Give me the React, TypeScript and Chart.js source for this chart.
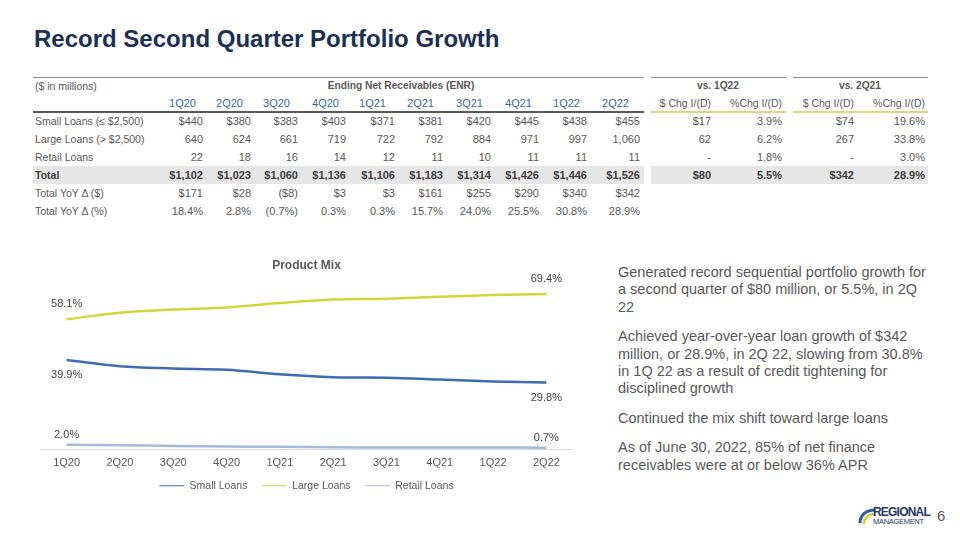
import React, { useEffect, useRef } from "react";
import { Chart, registerables } from "chart.js";

Chart.register(...registerables);

// ---- Ending net receivables table ($ in millions) ----
const quarters = ["1Q20", "2Q20", "3Q20", "4Q20", "1Q21", "2Q21", "3Q21", "4Q21", "1Q22", "2Q22"];
const smallLoansEnr = ["$440", "$380", "$383", "$403", "$371", "$381", "$420", "$445", "$438", "$455"];
const largeLoansEnr = ["640", "624", "661", "719", "722", "792", "884", "971", "997", "1,060"];
const retailLoansEnr = ["22", "18", "16", "14", "12", "11", "10", "11", "11", "11"];
const totalEnr = ["$1,102", "$1,023", "$1,060", "$1,136", "$1,106", "$1,183", "$1,314", "$1,426", "$1,446", "$1,526"];
const totalYoyDollar = ["$171", "$28", "($8)", "$3", "$3", "$161", "$255", "$290", "$340", "$342"];
const totalYoyPct = ["18.4%", "2.8%", "(0.7%)", "0.3%", "0.3%", "15.7%", "24.0%", "25.5%", "30.8%", "28.9%"];
const rowLabels = ["Small Loans (≤ $2,500)", "Large Loans (> $2,500)", "Retail Loans", "Total", "Total YoY Δ ($)", "Total YoY Δ (%)"];
const vs1Q22Dollar = ["$17", "62", "-", "$80"];
const vs1Q22Pct = ["3.9%", "6.2%", "1.8%", "5.5%"];
const vs2Q21Dollar = ["$74", "267", "-", "$342"];
const vs2Q21Pct = ["19.6%", "33.8%", "3.0%", "28.9%"];
const changeHeaders = ["$ Chg I/(D)", "%Chg I/(D)", "$ Chg I/(D)", "%Chg I/(D)"];

// ---- Product mix (% of ending net receivables) ----
const smallMix = [39.9, 37.1, 36.1, 35.5, 33.5, 32.2, 32.0, 31.2, 30.3, 29.8];
const largeMix = [58.1, 61.0, 62.4, 63.3, 65.3, 66.9, 67.3, 68.1, 68.9, 69.4];
const retailMix = [2.0, 1.8, 1.5, 1.2, 1.1, 0.9, 0.8, 0.8, 0.8, 0.7];

const bullets = [
  "Generated record sequential portfolio growth for a second quarter of $80 million, or 5.5%, in 2Q 22",
  "Achieved year-over-year loan growth of $342 million, or 28.9%, in 2Q 22, slowing from 30.8% in 1Q 22 as a result of credit tightening for disciplined growth",
  "Continued the mix shift toward large loans",
  "As of June 30, 2022, 85% of net finance receivables were at or below 36% APR",
];

const FONT = "'Liberation Sans', Arial, Helvetica, sans-serif";
const GRAY = "#595959";

// table geometry
const colRight = [203, 251, 298, 346, 395, 443, 491, 539, 587, 640];
const headRight = [196, 243, 290, 339, 386, 434, 483, 532, 580, 629];
const chgRight = [711, 782, 854, 925];
const rowY = [121, 139, 157, 175, 193, 211];

function T(props: {
  x: number;
  y: number;
  align?: "left" | "right" | "center";
  children: React.ReactNode;
  style?: React.CSSProperties;
}) {
  const { x, y, align = "left", children, style } = props;
  const h = 16;
  const base: React.CSSProperties = {
    position: "absolute",
    top: y - h / 2,
    height: h,
    lineHeight: h + "px",
    whiteSpace: "nowrap",
    fontSize: 11,
    color: GRAY,
  };
  if (align === "left") base.left = x;
  else if (align === "right") base.right = 960 - x;
  else {
    base.left = x - 100;
    base.width = 200;
    base.textAlign = "center";
  }
  return <div style={{ ...base, ...style }}>{children}</div>;
}

function Rule(props: { x1: number; x2: number; y: number; color: string; w?: number }) {
  const { x1, x2, y, color, w = 1 } = props;
  return (
    <div
      style={{ position: "absolute", left: x1, top: y - w / 2, width: x2 - x1, height: w, background: color }}
    />
  );
}

const boldRow: React.CSSProperties = { fontWeight: "bold", color: "#404040" };
const headFont: React.CSSProperties = { fontWeight: "bold", fontSize: 10.2 };
const labelFont: React.CSSProperties = { fontSize: 10.5 };

function EnrTable() {
  const dataRows = [smallLoansEnr, largeLoansEnr, retailLoansEnr, totalEnr, totalYoyDollar, totalYoyPct];
  const chgRows = [vs1Q22Dollar, vs1Q22Pct, vs2Q21Dollar, vs2Q21Pct];
  return (
    <>
      {/* total band */}
      <div style={{ position: "absolute", left: 33, top: 166, width: 611, height: 18, background: "#E7E6E6" }} />
      <div style={{ position: "absolute", left: 651, top: 166, width: 277, height: 18, background: "#E7E6E6" }} />
      {/* rules */}
      <Rule x1={33} x2={644} y={77} color="#8C8C8C" />
      <Rule x1={651} x2={786} y={77} color="#8C8C8C" />
      <Rule x1={793} x2={928} y={77} color="#8C8C8C" />
      <Rule x1={33} x2={644} y={112} color="#595959" w={1.5} />
      <Rule x1={651} x2={786} y={112} color="#D7DC6A" w={1.5} />
      <Rule x1={793} x2={928} y={112} color="#D7DC6A" w={1.5} />

      <T x={35} y={86} style={labelFont}>($ in millions)</T>
      <T x={401} y={86} align="center" style={headFont}>
        Ending Net Receivables (ENR)
      </T>
      <T x={718} y={86} align="center" style={headFont}>
        vs. 1Q22
      </T>
      <T x={860} y={86} align="center" style={headFont}>
        vs. 2Q21
      </T>

      {quarters.map((q, i) => (
        <T key={q} x={headRight[i]} y={103} align="right" style={{ color: "#2E6DB4" }}>
          {q}
        </T>
      ))}
      {changeHeaders.map((h, i) => (
        <T key={i} x={chgRight[i]} y={103} align="right" style={labelFont}>
          {h}
        </T>
      ))}

      {rowLabels.map((lab, r) => (
        <T key={lab} x={35} y={rowY[r]} style={r === 3 ? { ...labelFont, ...boldRow } : labelFont}>
          {lab}
        </T>
      ))}
      {dataRows.map((row, r) =>
        row.map((v, c) => (
          <T key={r + "-" + c} x={colRight[c]} y={rowY[r]} align="right" style={r === 3 ? boldRow : undefined}>
            {v}
          </T>
        ))
      )}
      {chgRows.map((col, c) =>
        col.map((v, r) => (
          <T key={"c" + c + "-" + r} x={chgRight[c]} y={rowY[r]} align="right" style={r === 3 ? boldRow : undefined}>
            {v}
          </T>
        ))
      )}
    </>
  );
}

// first / last value labels for each series
const labelShift = [15, -15, -10];
const endLabels = {
  id: "endLabels",
  afterDatasetsDraw(chart: any) {
    const { ctx } = chart;
    ctx.save();
    ctx.font = `11px ${FONT}`;
    ctx.fillStyle = "#404040";
    ctx.textAlign = "center";
    ctx.textBaseline = "middle";
    chart.data.datasets.forEach((ds: any, i: number) => {
      const meta = chart.getDatasetMeta(i);
      const last = ds.data.length - 1;
      [0, last].forEach((idx) => {
        const el = meta.data[idx];
        ctx.fillText(ds.data[idx].toFixed(1) + "%", el.x, el.y + labelShift[i]);
      });
    });
    ctx.restore();
  },
};

function MixChart() {
  const ref = useRef<HTMLCanvasElement | null>(null);
  useEffect(() => {
    if (!ref.current) return;
    const chart = new Chart(ref.current, {
      type: "line",
      data: {
        labels: quarters,
        datasets: [
          { label: "Small Loans", data: smallMix, borderColor: "#3D6DB0", backgroundColor: "#3D6DB0" },
          { label: "Large Loans", data: largeMix, borderColor: "#CFD83B", backgroundColor: "#CFD83B" },
          { label: "Retail Loans", data: retailMix, borderColor: "#A3BCDD", backgroundColor: "#A3BCDD" },
        ],
      },
      options: {
        animation: false,
        responsive: false,
        maintainAspectRatio: false,
        layout: { padding: { left: 20, right: 22, top: 0, bottom: 4 } },
        elements: {
          line: { borderWidth: 2.5, tension: 0.35 },
          point: { radius: 0, hoverRadius: 0 },
        },
        scales: {
          x: {
            offset: true,
            grid: { display: true, drawOnChartArea: false, drawTicks: false },
            border: { display: true, color: "#D9D9D9", width: 1 },
            ticks: { color: GRAY, padding: 7, font: { family: FONT, size: 11 } },
          },
          y: { display: false, min: 0, max: 75 },
        },
        plugins: {
          title: {
            display: true,
            text: "Product Mix",
            color: GRAY,
            font: { family: FONT, size: 12, weight: "bold" },
            padding: { top: 2, bottom: 9 },
          },
          legend: {
            position: "bottom",
            labels: {
              usePointStyle: true,
              pointStyle: "line",
              pointStyleWidth: 25,
              color: GRAY,
              padding: 4,
              font: { family: FONT, size: 10.5 },
              // an em space after the leading names keeps the items spread apart
              generateLabels: (c: any) => {
                const items = Chart.defaults.plugins.legend.labels.generateLabels(c);
                return items.map((item: any, i: number) =>
                  i < items.length - 1 ? { ...item, text: item.text + "\u2003" } : item
                );
              },
            },
          },
          tooltip: { enabled: false },
        },
      },
      plugins: [endLabels],
    });
    return () => chart.destroy();
  }, []);
  return (
    <canvas
      ref={ref}
      width={575}
      height={249}
      style={{ position: "absolute", left: 20, top: 256, width: 575, height: 249 }}
    />
  );
}

function Logo() {
  return (
    <div style={{ position: "absolute", left: 858, top: 505, width: 80, height: 24 }}>
      <svg width="18" height="20" style={{ position: "absolute", left: 0, top: 2 }} viewBox="0 0 18 20">
        <path d="M17 3 C8 3 2 8 2 16" stroke="#2E5FA6" strokeWidth="3" fill="none" />
        <path d="M17 7 C11 7 6 11 6 17" stroke="#C9D43A" strokeWidth="2.5" fill="none" />
      </svg>
      <div
        style={{
          position: "absolute",
          left: 15,
          top: 1,
          fontFamily: FONT,
          fontWeight: "bold",
          fontSize: 12,
          lineHeight: "12px",
          color: "#1F3A6E",
          letterSpacing: -0.8,
        }}
      >
        REGIONAL
      </div>
      <div
        style={{
          position: "absolute",
          left: 15,
          top: 12,
          fontFamily: FONT,
          fontSize: 7.5,
          lineHeight: "9px",
          color: "#1F3A6E",
          letterSpacing: -0.3,
        }}
      >
        MANAGEMENT
      </div>
    </div>
  );
}

export default function App() {
  return (
    <div
      style={{
        position: "absolute",
        left: 0,
        top: 0,
        width: 960,
        height: 540,
        background: "#FFFFFF",
        fontFamily: FONT,
        overflow: "hidden",
      }}
    >
      <div
        style={{
          position: "absolute",
          left: 34,
          top: 25,
          fontSize: 24,
          fontWeight: "bold",
          color: "#1B2F57",
          lineHeight: "28px",
          whiteSpace: "nowrap",
        }}
      >
        Record Second Quarter Portfolio Growth
      </div>

      <EnrTable />
      <MixChart />

      <div style={{ position: "absolute", left: 618, top: 264, width: 314, color: GRAY, fontSize: 14.5, lineHeight: "17.4px" }}>
        {bullets.map((b, i) => (
          <p key={i} style={{ margin: 0, marginBottom: 12 }}>
            {b}
          </p>
        ))}
      </div>

      <Logo />
      <div style={{ position: "absolute", left: 937, top: 507, fontSize: 15, color: GRAY, lineHeight: "18px" }}>6</div>
    </div>
  );
}
